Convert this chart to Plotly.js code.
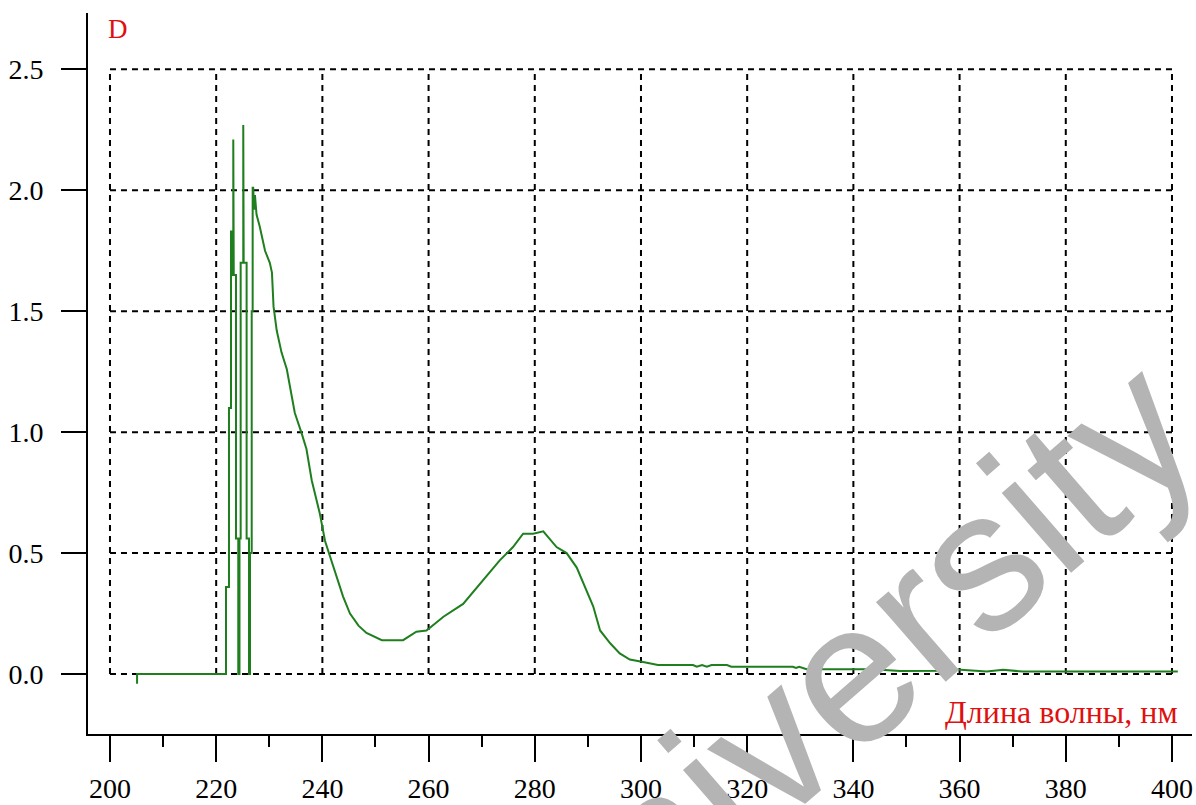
<!DOCTYPE html>
<html>
<head>
<meta charset="utf-8">
<script src="https://cdn.plot.ly/plotly-3.0.1.min.js"></script>
<style>
  html, body { margin: 0; padding: 0; background: #ffffff; }
  #chart { width: 1196px; height: 805px; }
</style>
</head>
<body>
<div id="chart"></div>
<script>
// Absorption spectrum: optical density D versus wavelength (nm)
const wavelength = [
  205.1, 205.1, 221.85, 221.85, 222.41, 222.41, 222.79, 222.79, 222.98, 222.98,
  223.22, 223.22, 223.31, 223.31, 223.73, 223.73, 224.16, 224.16, 224.39, 224.39,
  224.61, 224.61, 225.10, 225.10, 225.18, 225.18, 225.73, 225.73, 226.18, 226.18,
  226.37, 226.37, 226.69, 226.69, 226.87, 226.87, 226.97, 227.15, 227.3, 227.6,
  228.2, 229.2, 230.1, 230.5, 230.8, 231.4, 232.3, 233.3, 233.9, 234.8,
  236.1, 237.0, 238.0, 239.5, 240.5, 241.4, 242.7, 243.9, 245.2, 246.8,
  248.3, 251.2, 255.2, 256.5, 257.7, 259.6, 262.8, 266.5, 269.7, 273.4,
  275.9, 277.8, 279.7, 281.6, 284.1, 286.0, 287.9, 289.5, 291.0, 292.3,
  294.2, 296.0, 297.9, 300.4, 303.2, 309.8, 310.5, 311.5, 312.4, 313.3,
  316.2, 317.0, 319.9, 328.6, 329.2, 329.8, 331.2, 343.7, 348.8, 357.6,
  358.8, 361.3, 365.1, 368.2, 371.9, 401.1
];
const absorbance = [
  -0.04, 0.00, 0.00, 0.36, 0.36, 1.10, 1.10, 1.83, 1.83, 1.65,
  1.65, 2.21, 2.21, 1.65, 1.65, 0.56, 0.56, 0.00, 0.00, 0.56,
  0.56, 1.70, 1.70, 2.27, 2.27, 1.70, 1.70, 0.56, 0.56, 0.00,
  0.00, 0.50, 0.50, 1.50, 1.50, 2.01, 2.01, 1.92, 1.98, 1.90,
  1.85, 1.75, 1.70, 1.66, 1.52, 1.42, 1.33, 1.26, 1.19, 1.08,
  0.995, 0.93, 0.80, 0.665, 0.55, 0.49, 0.40, 0.32, 0.25, 0.20,
  0.17, 0.14, 0.14, 0.16, 0.175, 0.18, 0.237, 0.29, 0.375, 0.47,
  0.525, 0.58, 0.58, 0.59, 0.525, 0.50, 0.44, 0.36, 0.28, 0.18,
  0.127, 0.085, 0.06, 0.05, 0.037, 0.037, 0.03, 0.037, 0.03, 0.037,
  0.037, 0.03, 0.03, 0.03, 0.025, 0.03, 0.02, 0.02, 0.012, 0.014,
  0.02, 0.015, 0.01, 0.018, 0.01, 0.01
];

// Axis ticks and grid positions
const xTicks = [200, 220, 240, 260, 280, 300, 320, 340, 360, 380, 400];
const yTicks = [0.0, 0.5, 1.0, 1.5, 2.0, 2.5];
const yTickText = yTicks.map(v => v.toFixed(1));

const serif = 'Liberation Serif, Times New Roman, serif';
const red = '#e01010';

// Dashed grid spans only the labelled box
const gridStyle = { color: '#000000', width: 2, dash: '6px,5px' };
const shapes = [];
xTicks.forEach(v => shapes.push({
  type: 'line', xref: 'x', yref: 'y', layer: 'below',
  x0: v, x1: v, y0: yTicks[0], y1: yTicks[yTicks.length - 1], line: gridStyle
}));
yTicks.forEach(v => shapes.push({
  type: 'line', xref: 'x', yref: 'y', layer: 'below',
  x0: xTicks[0], x1: xTicks[xTicks.length - 1], y0: v, y1: v, line: gridStyle
}));

const trace = {
  x: wavelength, y: absorbance, type: 'scatter', mode: 'lines',
  line: { color: '#1f7f1f', width: 2 }, hoverinfo: 'skip'
};

const layout = {
  width: 1196, height: 805,
  margin: { l: 88, r: 4, t: 13, b: 71 },
  paper_bgcolor: '#ffffff', plot_bgcolor: '#ffffff',
  showlegend: false,
  font: { family: serif, size: 28, color: '#000000' },
  xaxis: {
    range: [195.86, 403.77],
    tickvals: xTicks, ticktext: xTicks.map(String),
    ticks: 'outside', ticklen: 26, tickwidth: 2, tickcolor: '#000000',
    minor: { tick0: 200, dtick: 10, ticks: 'outside', ticklen: 11, tickwidth: 2, tickcolor: '#000000' },
    showline: true, linecolor: '#000000', linewidth: 2,
    showgrid: false, zeroline: false,
    tickfont: { family: serif, size: 28, color: '#000000' },
    ticklabelstandoff: 2
  },
  yaxis: {
    range: [-0.248, 2.733],
    tickvals: yTicks, ticktext: yTickText,
    ticks: 'outside', ticklen: 25, tickwidth: 2, tickcolor: '#000000',
    showline: true, linecolor: '#000000', linewidth: 2,
    showgrid: false, zeroline: false,
    tickfont: { family: serif, size: 28, color: '#000000' },
    ticklabelstandoff: 12
  },
  shapes: shapes,
  annotations: [
    {
      xref: 'x', yref: 'y', x: 199.2, y: 2.665, xanchor: 'left', yanchor: 'middle',
      text: 'D', showarrow: false, font: { family: serif, size: 27, color: red }
    },
    {
      xref: 'x', yref: 'y', x: 401.5, y: -0.157, xanchor: 'right', yanchor: 'middle',
      text: 'Длина волны, нм', showarrow: false, font: { family: serif, size: 32, color: red }
    },
    {
      xref: 'paper', yref: 'paper', x: 0.677, y: 0.067, xanchor: 'center', yanchor: 'middle',
      text: 'University', showarrow: false, textangle: -41,
      font: { family: 'Liberation Sans, Arial, sans-serif', size: 200, color: '#b4b4b4' }
    }
  ]
};

Plotly.newPlot('chart', [trace], layout, { staticPlot: true, displayModeBar: false });
</script>
</body>
</html>
